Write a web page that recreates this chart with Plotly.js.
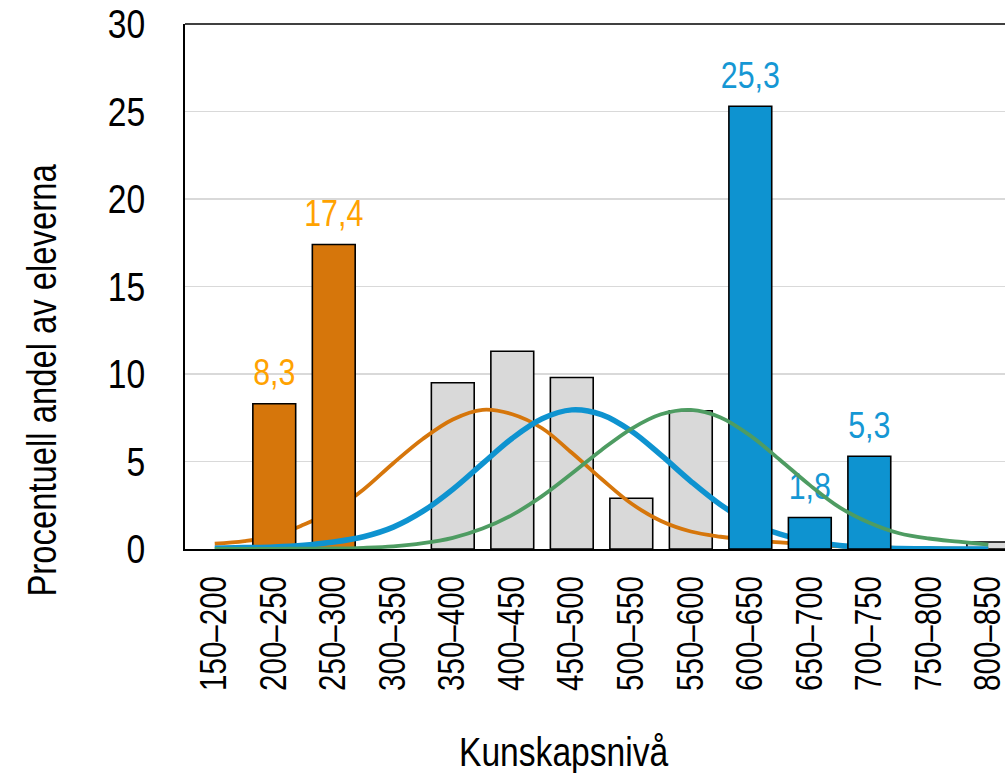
<!DOCTYPE html>
<html>
<head>
<meta charset="utf-8">
<script src="https://cdn.plot.ly/plotly-3.0.1.min.js"></script>
<style>
html, body { margin: 0; padding: 0; background: #ffffff; }
#chart { width: 1005px; height: 773px; }
</style>
</head>
<body>
<div id="chart"></div>
<script>
// ---- data ----
var categories = ['150–200','200–250','250–300','300–350','350–400','400–450','450–500',
                  '500–550','550–600','600–650','650–700','700–750','750–800','800–850'];
var greyShares   = [null, null, null, null, 9.5, 11.3, 9.8, 2.9, 7.9, null, null, null, null, 0.4];
var orangeShares = [null, 8.3, 17.4, null, null, null, null, null, null, null, null, null, null, null];
var blueShares   = [null, null, null, null, null, null, null, null, null, 25.3, 1.8, 5.3, null, null];
var orangeLabels = ['', '8,3', '17,4', '', '', '', '', '', '', '', '', '', '', ''];
var blueLabels   = ['', '', '', '', '', '', '', '', '', '25,3', '1,8', '5,3', '', ''];

var curveX = [0, 0.5, 1, 1.5, 2, 2.5, 3, 3.5, 4, 4.5, 5, 5.5, 6, 6.5, 7, 7.5, 8, 8.5, 9,
              9.5, 10, 10.5, 11, 11.5, 12, 12.5, 13];
var orangeCurve = [0.3, 0.45, 0.75, 1.4, 2.2, 3.4, 4.9, 6.3, 7.4, 7.95, 7.7, 6.9, 5.5, 4.0, 2.6,
                   1.6, 1.0, 0.7, 0.5, 0.38, 0.25, 0.15, 0.1, 0.06, 0.04, 0.02, 0.01];
var blueCurve   = [0.05, 0.08, 0.12, 0.22, 0.4, 0.7, 1.25, 2.16, 3.41, 4.88, 6.33, 7.44, 7.95, 7.68, 6.74,
                   5.36, 3.87, 2.53, 1.5, 0.85, 0.45, 0.2, 0.08, 0.03, 0.01, 0.0, 0.0];
var greenCurve  = [0.0, 0.0, 0.01, 0.02, 0.03, 0.07, 0.15, 0.33, 0.64, 1.17, 1.95, 3.02, 4.31, 5.66, 6.87,
                   7.7, 7.95, 7.52, 6.48, 5.09, 3.65, 2.38, 1.5, 0.9, 0.6, 0.42, 0.25];

// ---- styles ----
var FONT = '"Liberation Sans Narrow", "Arial Narrow", "Liberation Sans", Arial, sans-serif';
var NARROW = 0.82; // horizontal condensing of all text (Arial Narrow look)
var ORANGE = '#D6760B', BLUE = '#0E93D0', GREEN = '#4E9C62', GREY = '#D9D9D9';
var ORANGE_TXT = '#FFA200', BLUE_TXT = '#1597D4';
var idx = categories.map(function (c, i) { return i; });
var barLine = { color: '#000000', width: 1.6 };

var traces = [
  { type: 'bar', x: idx, y: greyShares, width: 0.72, marker: { color: GREY, line: barLine },
    xaxis: 'x', yaxis: 'y', hoverinfo: 'skip' },
  { type: 'scatter', mode: 'lines', x: curveX, y: orangeCurve, line: { color: ORANGE, width: 3.8, shape: 'spline' },
    xaxis: 'x', yaxis: 'y', hoverinfo: 'skip' },
  { type: 'bar', x: idx, y: orangeShares, width: 0.72, marker: { color: ORANGE, line: barLine },
    xaxis: 'x2', yaxis: 'y2', hoverinfo: 'skip' },
  { type: 'scatter', mode: 'lines', x: curveX, y: blueCurve, line: { color: BLUE, width: 5.5, shape: 'spline' },
    xaxis: 'x2', yaxis: 'y2', hoverinfo: 'skip' },
  { type: 'bar', x: idx, y: blueShares, width: 0.72, marker: { color: BLUE, line: barLine },
    xaxis: 'x3', yaxis: 'y3', hoverinfo: 'skip' },
  { type: 'scatter', mode: 'markers+text', x: idx, y: orangeShares, text: orangeLabels, textposition: 'top center',
    marker: { size: 13, color: 'rgba(0,0,0,0)' }, textfont: { family: FONT, size: 37, color: ORANGE_TXT },
    xaxis: 'x3', yaxis: 'y3', hoverinfo: 'skip', cliponaxis: false },
  { type: 'scatter', mode: 'markers+text', x: idx, y: blueShares, text: blueLabels, textposition: 'top center',
    marker: { size: 13, color: 'rgba(0,0,0,0)' }, textfont: { family: FONT, size: 37, color: BLUE_TXT },
    xaxis: 'x3', yaxis: 'y3', hoverinfo: 'skip', cliponaxis: false },
  { type: 'scatter', mode: 'lines', x: curveX, y: greenCurve, line: { color: GREEN, width: 3.8, shape: 'spline' },
    xaxis: 'x3', yaxis: 'y3', hoverinfo: 'skip' }
];

var XR = [-0.5, 13.28], YR = [0, 30];
var hiddenX = { range: XR, overlaying: 'x', visible: false, fixedrange: true };
var hiddenY = { range: YR, overlaying: 'y', visible: false, fixedrange: true };

var layout = {
  width: 1005, height: 773,
  margin: { l: 185, r: 0, t: 24, b: 224 },
  paper_bgcolor: '#ffffff', plot_bgcolor: '#ffffff',
  showlegend: false,
  barmode: 'overlay',
  font: { family: FONT, color: '#000000' },
  xaxis: {
    range: XR, tickmode: 'array', tickvals: idx, ticktext: categories,
    tickangle: -90, tickfont: { family: FONT, size: 36, color: '#000000' },
    showgrid: false, zeroline: false, showline: true, linecolor: '#000000', linewidth: 1.6,
    ticks: '', ticklabelstandoff: 11, ticklabeloverflow: 'allow', fixedrange: true
  },
  yaxis: {
    range: YR, tickmode: 'array', tickvals: [0, 5, 10, 15, 20, 25, 30],
    tickfont: { family: FONT, size: 41, color: '#000000' },
    showgrid: true, gridcolor: GREY, gridwidth: 1.5, zeroline: false,
    showline: true, linecolor: '#000000', linewidth: 1.6,
    ticks: '', ticklabelstandoff: 30, fixedrange: true
  },
  xaxis2: hiddenX, yaxis2: hiddenY,
  xaxis3: hiddenX, yaxis3: hiddenY,
  shapes: [
    { type: 'line', xref: 'paper', yref: 'paper', x0: 0, x1: 1, y0: 1, y1: 1,
      line: { color: '#000000', width: 1.6 } }
  ],
  annotations: [
    { text: 'Procentuell andel av eleverna', xref: 'paper', yref: 'paper', x: -0.1744, y: 0.322,
      xanchor: 'center', yanchor: 'middle', textangle: -90, showarrow: false,
      font: { family: FONT, size: 40, color: '#000000' } },
    { text: 'Kunskapsnivå', xref: 'paper', yref: 'paper', x: 0.461, y: -0.3867,
      xanchor: 'center', yanchor: 'middle', showarrow: false,
      font: { family: FONT, size: 41, color: '#000000' } }
  ]
};

Plotly.newPlot('chart', traces, layout, { staticPlot: true, displayModeBar: false }).then(function (gd) {
  // condense the glyphs horizontally, like the narrow typeface of the original
  var texts = gd.querySelectorAll('svg text');
  Array.prototype.forEach.call(texts, function (t) {
    var len = t.getComputedTextLength ? t.getComputedTextLength() : 0;
    if (len > 0) {
      t.setAttribute('textLength', (len * NARROW).toFixed(2));
      t.setAttribute('lengthAdjust', 'spacingAndGlyphs');
    }
  });
});
</script>
</body>
</html>
